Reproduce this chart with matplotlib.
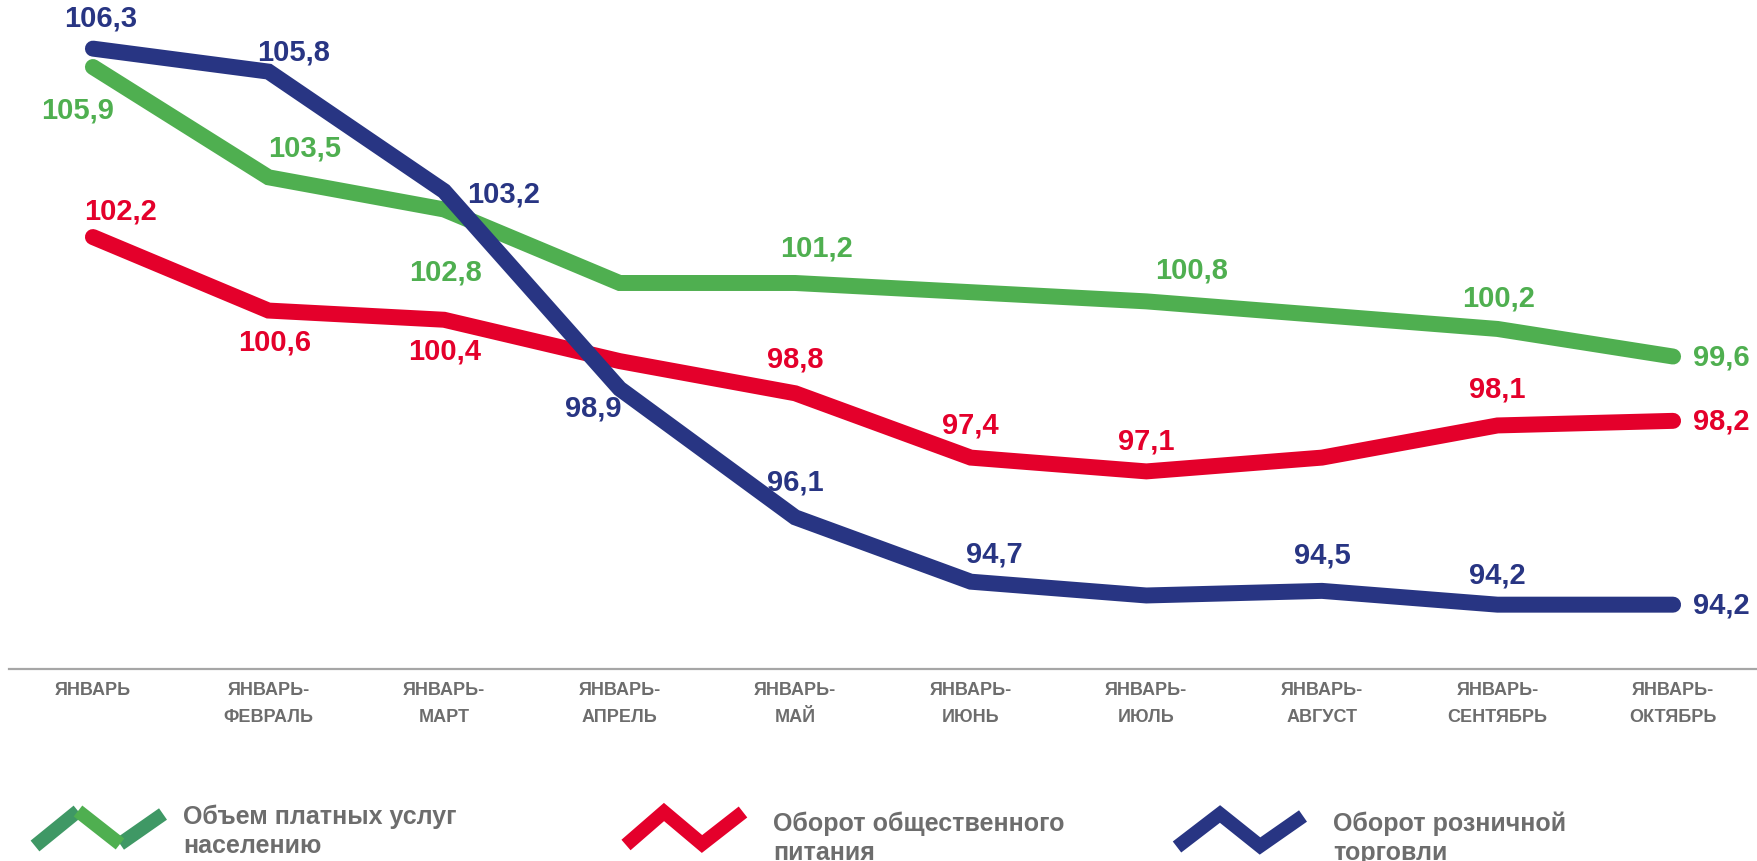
import numpy as np
import matplotlib
matplotlib.use("Agg")
from matplotlib import pyplot as plt
from matplotlib.lines import Line2D

plt.rcParams['font.family'] = ['Liberation Sans', 'DejaVu Sans']

# Данные
periods = ['ЯНВАРЬ', 'ЯНВАРЬ-\nФЕВРАЛЬ', 'ЯНВАРЬ-\nМАРТ', 'ЯНВАРЬ-\nАПРЕЛЬ', 'ЯНВАРЬ-\nМАЙ',
           'ЯНВАРЬ-\nИЮНЬ', 'ЯНВАРЬ-\nИЮЛЬ', 'ЯНВАРЬ-\nАВГУСТ', 'ЯНВАРЬ-\nСЕНТЯБРЬ', 'ЯНВАРЬ-\nОКТЯБРЬ']
uslugi = [105.9, 103.5, 102.8, 101.2, 101.2, 101.0, 100.8, 100.5, 100.2, 99.6]
pitanie = [102.2, 100.6, 100.4, 99.5, 98.8, 97.4, 97.1, 97.4, 98.1, 98.2]
torgovlya = [106.3, 105.8, 103.2, 98.9, 96.1, 94.7, 94.4, 94.5, 94.2, 94.2]
names = ['Объем платных услуг\nнаселению', 'Оборот общественного\nпитания', 'Оборот розничной\nторговли']

GREEN = '#4faf50'
GREEN_DARK = '#3f9865'
RED = '#e4002b'
BLUE = '#283583'
GRAY = '#6d6d6d'

W, H = 1757, 862
fig = plt.figure(figsize=(W / 100, H / 100), dpi=100)
ax = fig.add_axes([9 / W, 1 - 670 / H, 1 - 9 / W, 670 / H])
ax.set_xlim(-0.478, 9.478)
ax.set_ylim(92.80, 107.38)

x = np.arange(len(periods))
for vals, col, z in [(uslugi, GREEN, 3), (pitanie, RED, 3), (torgovlya, BLUE, 4)]:
    ax.plot(x, vals, color=col, lw=11.5, solid_capstyle='round', solid_joinstyle='miter', zorder=z)

# подписи значений: индекс -> смещение в пикселях (dx, dy вниз)
lab_g = {0: (-15, 42), 1: (36, -30), 2: (1, 62), 4: (21, -35), 6: (45, -32), 8: (1, -31)}
lab_r = {0: (28, -27), 1: (6, 31), 2: (1, 31), 4: (0, -35), 5: (0, -33), 6: (0, -31), 8: (0, -37)}
lab_b = {0: (8, -31), 1: (25, -20), 2: (59, 2), 3: (-26, 19), 4: (0, -36), 5: (24, -28), 7: (0, -36), 8: (0, -30)}

for vals, col, labs in [(uslugi, GREEN, lab_g), (pitanie, RED, lab_r), (torgovlya, BLUE, lab_b)]:
    for i, (dx, dy) in labs.items():
        ax.annotate(f'{vals[i]:.1f}'.replace('.', ','), (x[i], vals[i]), xytext=(dx * 0.72, -dy * 0.72),
                    textcoords='offset points', ha='center', va='center', color=col,
                    fontsize=21, fontweight='bold', zorder=5)
    ax.annotate(f'{vals[-1]:.1f}'.replace('.', ','), (x[-1], vals[-1]), xytext=(20 * 0.72, 0),
                textcoords='offset points', ha='left', va='center', color=col,
                fontsize=21, fontweight='bold', zorder=5)

for s in ['top', 'right', 'left']:
    ax.spines[s].set_visible(False)
ax.spines['bottom'].set_color('#a6a6a6')
ax.spines['bottom'].set_linewidth(1.6)
ax.set_yticks([])
ax.set_xticks(x)
ax.set_xticklabels(periods, fontsize=13, fontweight='bold', color=GRAY, linespacing=1.7)
ax.tick_params(axis='x', length=0, pad=9)
ax.patch.set_visible(False)


def fig_line(pts, col):
    xs = [p[0] / W for p in pts]
    ys = [1 - p[1] / H for p in pts]
    fig.add_artist(Line2D(xs, ys, transform=fig.transFigure, color=col, lw=10,
                          solid_capstyle='butt', solid_joinstyle='miter'))


# легенда
g = [(35, 847), (78, 812), (120, 845), (163, 815)]
fig_line(g[0:2], GREEN_DARK)
fig_line(g[2:4], GREEN_DARK)
fig_line(g[1:3], GREEN)
fig_line([(626, 846), (664, 813), (702, 845), (743, 813)], RED)
fig_line([(1177, 848), (1220, 815), (1260, 847), (1303, 817)], BLUE)

fig.text(183 / W, 1 - 831 / H, names[0], fontsize=18, fontweight='bold', color=GRAY,
         va='center', ha='left', linespacing=1.25)
fig.text(773 / W, 1 - 838 / H, names[1], fontsize=18, fontweight='bold', color=GRAY,
         va='center', ha='left', linespacing=1.25)
fig.text(1333 / W, 1 - 838 / H, names[2], fontsize=18, fontweight='bold', color=GRAY,
         va='center', ha='left', linespacing=1.25)

fig.savefig('out.png', dpi=100, facecolor='white')
